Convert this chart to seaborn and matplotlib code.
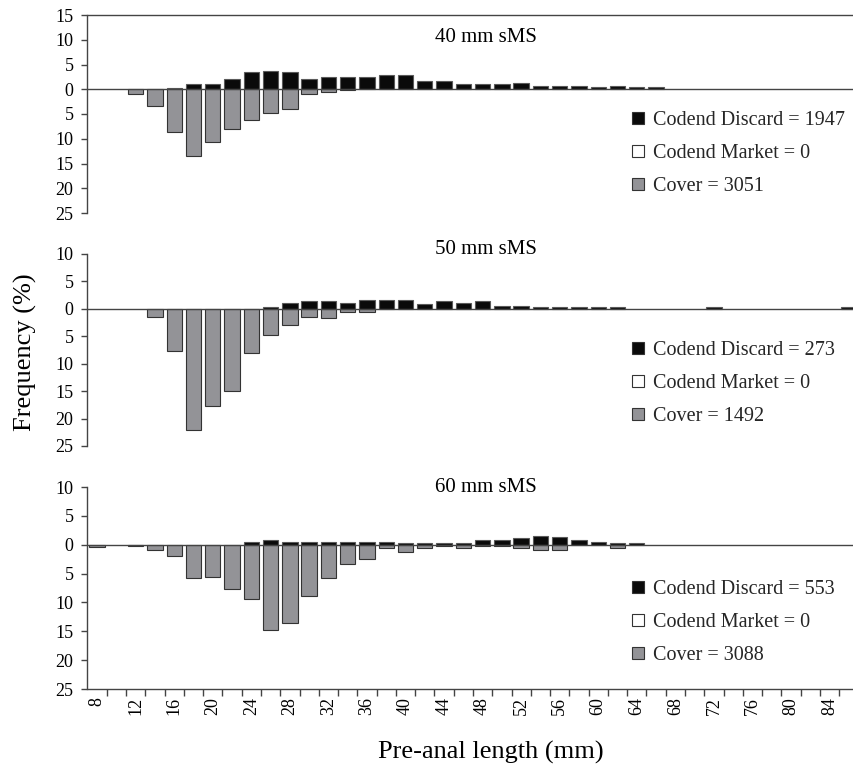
import numpy as np
import pandas as pd
import matplotlib
matplotlib.use("Agg")
import matplotlib.pyplot as plt
from matplotlib.patches import Patch
import seaborn as sns

# ---------------- data ----------------
lengths = [8, 10, 12, 14, 16, 18, 20, 22, 24, 26, 28, 30, 32, 34, 36, 38, 40, 42, 44, 46,
           48, 50, 52, 54, 56, 58, 60, 62, 64, 66, 68, 70, 72, 74, 76, 78, 80, 82, 84, 86]

discard_40 = [0, 0, 0, 0, 0.3, 1.0, 1.0, 2.1, 3.4, 3.6, 3.4, 2.1, 2.5, 2.5, 2.5, 2.8, 2.8, 1.7, 1.7, 1.0,
              1.0, 1.0, 1.3, 0.7, 0.7, 0.7, 0.4, 0.7, 0.4, 0.4, 0, 0, 0, 0, 0, 0, 0, 0, 0, 0]
cover_40 = [0, 0, 0.9, 3.3, 8.6, 13.4, 10.7, 8.0, 6.3, 4.8, 3.9, 0.9, 0.6, 0.2, 0, 0, 0, 0, 0, 0,
            0, 0, 0, 0, 0, 0, 0, 0, 0, 0, 0, 0, 0, 0, 0, 0, 0, 0, 0, 0]

discard_50 = [0, 0, 0, 0, 0, 0, 0, 0, 0, 0.3, 1.1, 1.35, 1.35, 1.05, 1.6, 1.6, 1.6, 0.85, 1.35, 1.1,
              1.35, 0.6, 0.6, 0.3, 0.3, 0.3, 0.3, 0.3, 0, 0, 0, 0, 0.3, 0, 0, 0, 0, 0, 0, 0.3]
cover_50 = [0, 0, 0, 1.4, 7.6, 22.0, 17.7, 14.9, 8.1, 4.8, 2.9, 1.4, 1.7, 0.6, 0.6, 0, 0, 0, 0, 0,
            0, 0, 0, 0, 0, 0, 0, 0, 0, 0, 0, 0, 0, 0, 0, 0, 0, 0, 0, 0]

discard_60 = [0, 0, 0, 0, 0, 0, 0, 0, 0.5, 0.9, 0.5, 0.5, 0.5, 0.5, 0.5, 0.5, 0.3, 0.3, 0.3, 0.3,
              0.9, 0.9, 1.1, 1.55, 1.4, 0.9, 0.5, 0.3, 0.3, 0, 0, 0, 0, 0, 0, 0, 0, 0, 0, 0]
cover_60 = [0.4, 0, 0.3, 1.0, 2.0, 5.8, 5.6, 7.7, 9.4, 14.7, 13.6, 8.9, 5.8, 3.35, 2.5, 0.5, 1.3, 0.5, 0.2, 0.6,
            0.2, 0.2, 0.6, 0.9, 0.9, 0, 0, 0.6, 0, 0, 0, 0, 0, 0, 0, 0, 0, 0, 0, 0]

panel_titles = ["40 mm sMS", "50 mm sMS", "60 mm sMS"]
n_discard = [1947, 273, 553]
n_market = [0, 0, 0]
n_cover = [3051, 1492, 3088]
y_tops = [15, 10, 10]

discards = [discard_40, discard_50, discard_60]
covers = [cover_40, cover_50, cover_60]

# ---------------- style ----------------
sns.set_theme(style="white")
plt.rcParams["font.family"] = ["Liberation Serif", "DejaVu Serif"]
plt.rcParams["axes.edgecolor"] = "#444444"

BLACK = "#0a0a0a"
GREY = "#939397"
EDGE_DARK = "#333333"
EDGE_BLACK = "#5a5a5a"
LINE = "#444444"

W, H = 854, 768
fig = plt.figure(figsize=(W / 100, H / 100), dpi=100)


def rect(left, top, right, bottom):
    return [left / W, 1 - bottom / H, (right - left) / W, (bottom - top) / H]


panel_px = [(87.5, 15, 854, 213), (87.5, 254, 854, 446), (87.5, 487, 854, 689)]
title_y = [37, 250, 487]
legend_top = [111, 341, 580]

labels = [str(v) for v in lengths]
n = len(lengths)
boundaries = [i + 0.5 for i in range(n - 1)]
major_pos = [i for i, v in enumerate(lengths) if v % 4 == 0]
major_lab = [str(lengths[i]) for i in major_pos]

for k in range(3):
    ax = fig.add_axes(rect(*panel_px[k]))
    df = pd.DataFrame({"length": labels,
                       "discard": discards[k],
                       "cover": [-v for v in covers[k]]})
    sns.barplot(data=df, x="length", y="discard", order=labels, color=BLACK,
                saturation=1, width=0.8, edgecolor=EDGE_BLACK, linewidth=0.8,
                errorbar=None, ax=ax)
    sns.barplot(data=df, x="length", y="cover", order=labels, color=GREY,
                saturation=1, width=0.8, edgecolor=EDGE_DARK, linewidth=0.8,
                errorbar=None, ax=ax)
    # empty classes should not leave an outline on the zero line
    for p in ax.patches:
        if abs(p.get_height()) < 1e-9:
            p.set_linewidth(0)

    top = y_tops[k]
    ax.set_ylim(-25, top)
    ax.set_xlim(-0.5, 39.27)
    yt = list(range(-25, top + 1, 5))
    ax.set_yticks(yt)
    ax.set_yticklabels([str(abs(v)) for v in yt])
    ax.set_xlabel("")
    ax.set_ylabel("")

    for s in ["left", "bottom", "top", "right"]:
        ax.spines[s].set_color(LINE)
        ax.spines[s].set_linewidth(1.0)
    ax.spines["right"].set_visible(False)
    ax.spines["top"].set_visible(k == 0)
    ax.spines["bottom"].set_position(("data", 0))

    ax.set_xticks(major_pos)
    ax.set_xticks(boundaries, minor=True)
    ax.tick_params(axis="x", which="major", length=0, labelbottom=False)
    ax.tick_params(axis="x", which="minor", length=5, width=1, color=LINE,
                   direction="out")
    ax.tick_params(axis="y", which="major", left=True, length=4, width=1,
                   color=LINE, direction="out", labelsize=13, pad=6,
                   labelcolor="black")

    if k == 2:
        sec = ax.secondary_xaxis("bottom")
        sec.spines["bottom"].set_color(LINE)
        sec.spines["bottom"].set_linewidth(1.0)
        sec.set_xticks(major_pos)
        sec.set_xticklabels(major_lab, rotation=90)
        sec.set_xticks(boundaries, minor=True)
        sec.tick_params(axis="x", which="major", length=0, labelsize=13, pad=6,
                        labelcolor="black")
        sec.tick_params(axis="x", which="minor", length=5, width=1, color=LINE,
                        direction="out")

    fig.text(486 / W, 1 - title_y[k] / H, panel_titles[k], ha="center",
             va="center", fontsize=15, color="black")

    handles = [
        Patch(facecolor=BLACK, edgecolor=EDGE_DARK, linewidth=0.8,
              label=f"Codend Discard = {n_discard[k]}"),
        Patch(facecolor="white", edgecolor=EDGE_DARK, linewidth=0.8,
              label=f"Codend Market = {n_market[k]}"),
        Patch(facecolor=GREY, edgecolor=EDGE_DARK, linewidth=0.8,
              label=f"Cover = {n_cover[k]}"),
    ]
    ax.legend(handles=handles, loc="upper left",
              bbox_to_anchor=(632 / W, 1 - legend_top[k] / H),
              bbox_transform=fig.transFigure, frameon=False, fontsize=14.5,
              handlelength=0.6, handleheight=0.6, handletextpad=0.45,
              labelspacing=0.7, borderaxespad=0, borderpad=0)

fig.text(25 / W, 1 - 352 / H, "Frequency (%)", rotation=90, ha="center",
         va="center", fontsize=19, color="black")
fig.text(491 / W, 1 - 752 / H, "Pre-anal length (mm)", ha="center",
         va="center", fontsize=19, color="black")

fig.savefig("out.png", dpi=100)
